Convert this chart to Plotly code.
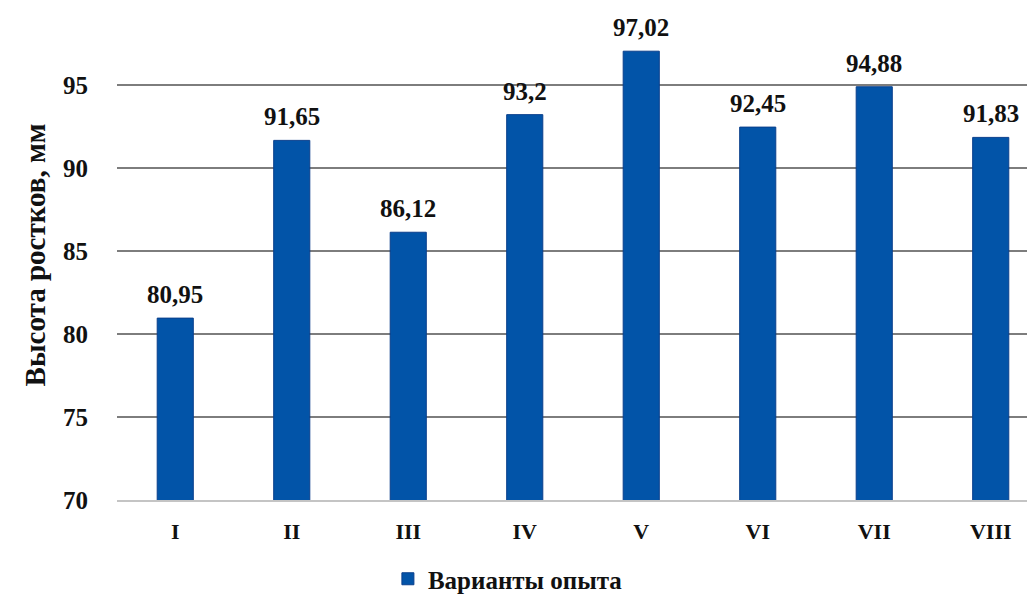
import plotly.graph_objects as go

categories = ["I", "II", "III", "IV", "V", "VI", "VII", "VIII"]
values = [80.95, 91.65, 86.12, 93.2, 97.02, 92.45, 94.88, 91.83]
labels = [f"{v:g}".replace(".", ",") for v in values]
series_name = "Варианты опыта"
y_title = "Высота ростков, мм"
y_ticks = [70, 75, 80, 85, 90, 95]

serif = "Liberation Serif"

fig = go.Figure()
fig.add_trace(go.Bar(
    x=categories, y=values, name=series_name,
    marker=dict(color="#0254A8", line=dict(color="#0A3F8C", width=1)),
    showlegend=True,
))

for c, v, t in zip(categories, values, labels):
    fig.add_annotation(
        x=c, y=v, text=t, showarrow=False, yanchor="bottom", yshift=8,
        font=dict(family=serif, size=25, color="#111", weight="bold"),
    )

fig.update_layout(
    width=1035, height=594,
    margin=dict(l=109, r=8, t=2, b=102, autoexpand=False),
    paper_bgcolor="white", plot_bgcolor="white",
    bargap=0.69,
    font=dict(family=serif, color="#111"),
    legend=dict(
        orientation="h", xref="container", yref="container",
        x=0.483, xanchor="center", y=0.0, yanchor="bottom",
        font=dict(family=serif, size=25, color="#111", weight="bold"),
        itemwidth=30,
    ),
    xaxis=dict(
        range=[-0.5, 7.38], showgrid=False, automargin=False,
        showline=True, linecolor="#c4c4c4", linewidth=1.5,
        ticks="outside", ticklen=11, tickcolor="white",
        tickfont=dict(family=serif, size=22, color="#111", weight="bold"),
    ),
    yaxis=dict(
        range=[70, 99.5], tickvals=y_ticks, automargin=False,
        showgrid=True, gridcolor="#7d7d7d", gridwidth=1.5,
        zeroline=False, showline=False,
        ticks="outside", ticklen=23, tickcolor="white",
        tickfont=dict(family=serif, size=25, color="#111", weight="bold"),
        title=dict(text=y_title, standoff=8,
                   font=dict(family=serif, size=29, color="#111", weight="bold")),
    ),
)

fig.write_html("out.html")
